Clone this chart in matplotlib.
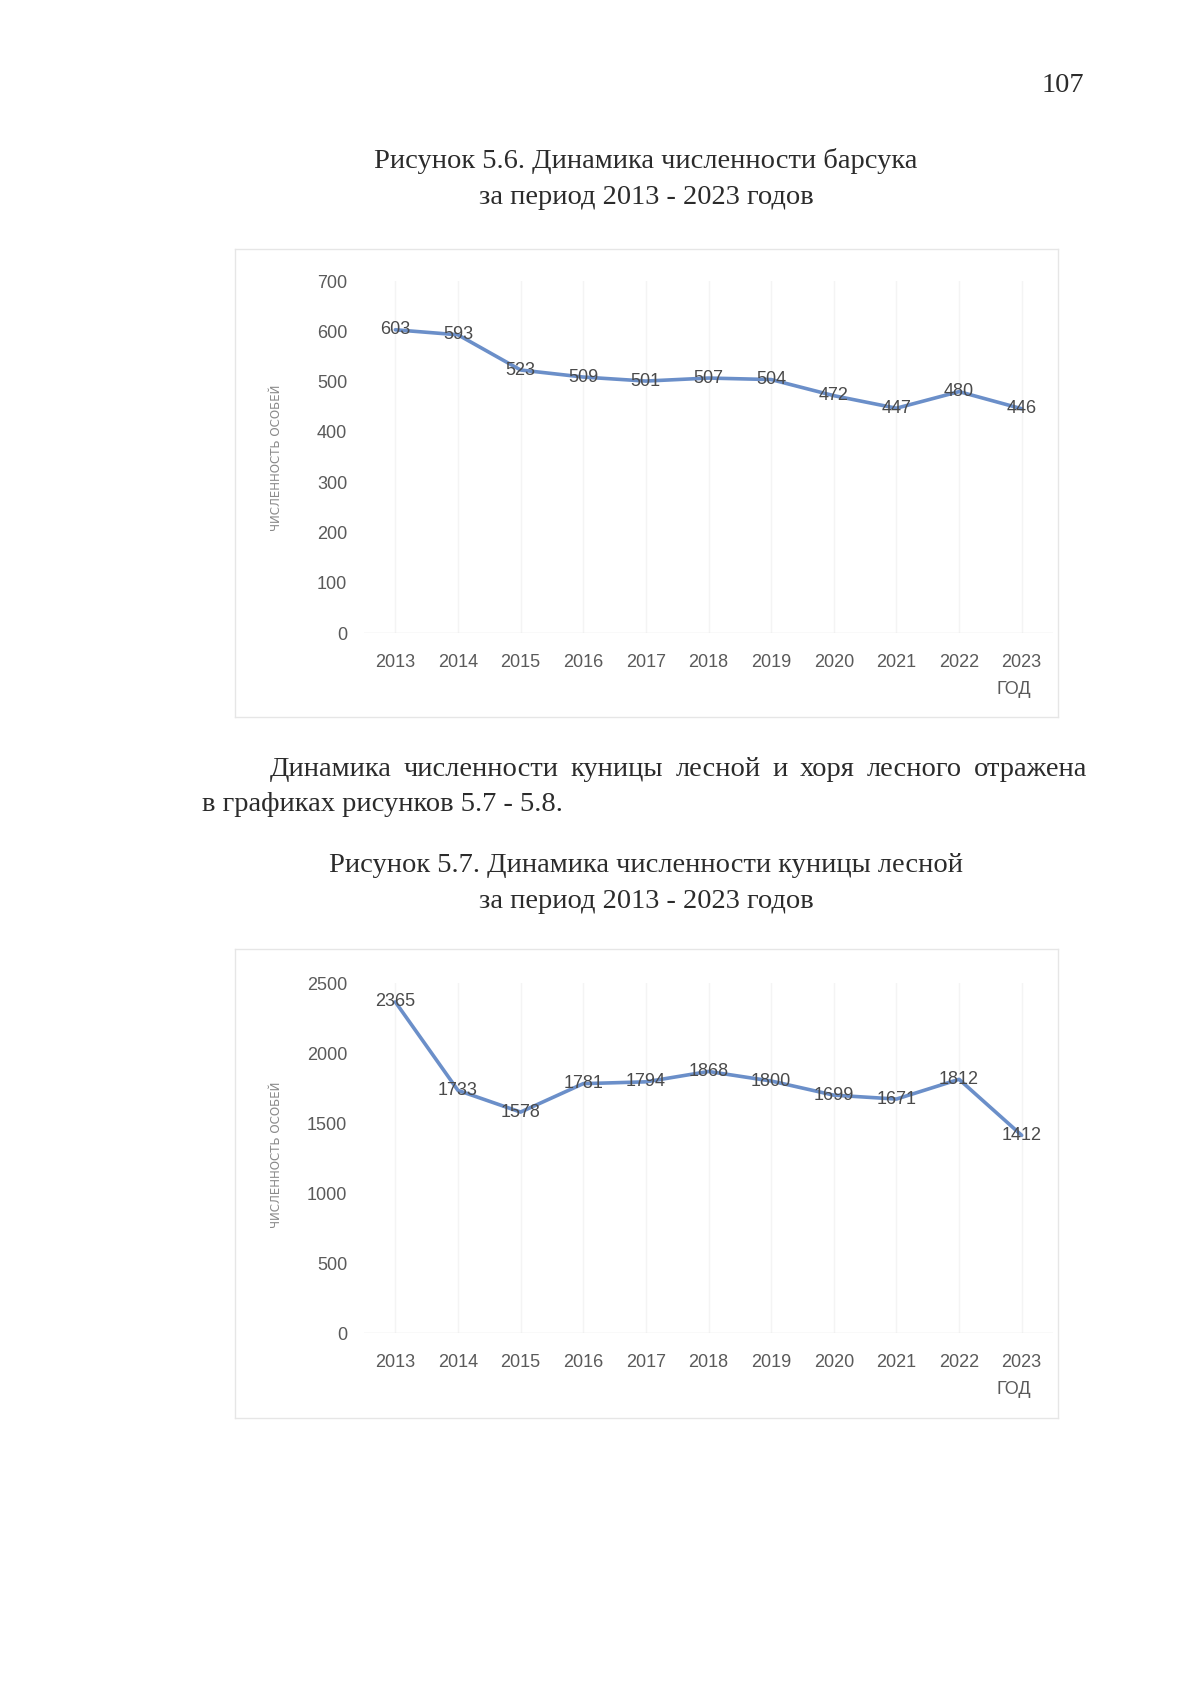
import matplotlib
matplotlib.use("Agg")
import matplotlib.pyplot as plt
from matplotlib import font_manager

years = ["2013", "2014", "2015", "2016", "2017", "2018", "2019", "2020", "2021", "2022", "2023"]
badger = [603, 593, 523, 509, 501, 507, 504, 472, 447, 480, 446]
marten = [2365, 1733, 1578, 1781, 1794, 1868, 1800, 1699, 1671, 1812, 1412]

badger_ticks = [0, 100, 200, 300, 400, 500, 600, 700]
marten_ticks = [0, 500, 1000, 1500, 2000, 2500]

page_no = "107"
caption1 = ["Рисунок 5.6. Динамика численности барсука", "за период 2013 - 2023 годов"]
caption2 = ["Рисунок 5.7. Динамика численности куницы лесной", "за период 2013 - 2023 годов"]
para_line1 = "Динамика численности куницы лесной и хоря лесного отражена"
para_line2 = "в графиках рисунков 5.7 - 5.8."
y_title = "ЧИСЛЕННОСТЬ ОСОБЕЙ"
x_title = "ГОД"

W, H = 1200, 1698
names = {f.name for f in font_manager.fontManager.ttflist}
narrow = "Liberation Sans Narrow" if "Liberation Sans Narrow" in names else "Liberation Sans"
serif = "Liberation Serif"

LINE = "#6b8fc9"
TICK = "#5a5a5a"

fig = plt.figure(figsize=(W / 100, H / 100), dpi=100)
fig.patch.set_facecolor("white")


def px(x, y):
    return x / W, 1 - y / H


def box(x0, y0, x1, y1):
    # axes rectangle from pixel coords
    return [x0 / W, 1 - y1 / H, (x1 - x0) / W, (y1 - y0) / H]


def draw_chart(frame, plot, values, ticks, ymax):
    fx0, fy0, fx1, fy1 = frame
    fr = fig.add_axes(box(fx0, fy0, fx1, fy1))
    fr.set_xticks([])
    fr.set_yticks([])
    for s in fr.spines.values():
        s.set_color("#e6e6e6")
        s.set_linewidth(1.0)
    fr.patch.set_alpha(0)

    ax = fig.add_axes(box(*plot))
    x = list(range(len(values)))
    ax.plot(x, values, color=LINE, lw=2.6, solid_capstyle="round", zorder=3)
    for xi, v in zip(x, values):
        ax.text(xi, v, str(v), ha="center", va="center", fontsize=13,
                family=narrow, color="#4a4a4a", zorder=4)
    ax.set_xlim(-0.5, len(values) - 0.5)
    ax.set_ylim(0, ymax)
    ax.set_yticks(ticks)
    ax.set_yticklabels([str(t) for t in ticks], family=narrow, fontsize=13, color=TICK)
    ax.set_xticks(x)
    ax.set_xticklabels(years, family=narrow, fontsize=13, color=TICK)
    ax.tick_params(length=0, pad=12, axis="y")
    ax.tick_params(length=0, pad=15, axis="x")
    for s in ax.spines.values():
        s.set_visible(False)
    ax.axhline(0, color="#e3e3e3", lw=1.0, zorder=1)
    for xi in x:
        ax.axvline(xi, color="#f4f4f4", lw=1.0, zorder=0)
    ax.patch.set_alpha(0)
    return ax


# chart 1
draw_chart((235, 249, 1058, 717), (364, 281, 1053, 633), badger, badger_ticks, 700)
fig.text(*px(276, 458), y_title, rotation=90, ha="center", va="center",
         fontsize=8.5, color="#8a8a8a", family="DejaVu Sans")
fig.text(*px(1014, 689), x_title, ha="center", va="center", fontsize=13,
         family=narrow, color=TICK)

# chart 2
draw_chart((235, 949, 1058, 1418), (364, 983, 1053, 1333), marten, marten_ticks, 2500)
fig.text(*px(276, 1155), y_title, rotation=90, ha="center", va="center",
         fontsize=8.5, color="#8a8a8a", family="DejaVu Sans")
fig.text(*px(1014, 1389), x_title, ha="center", va="center", fontsize=13,
         family=narrow, color=TICK)

# page text
TXT = "#2b2b2b"
FS = 20.5
fig.text(*px(1063, 86), page_no, ha="center", va="center", fontsize=FS,
         family=serif, color=TXT)
fig.text(*px(646, 161), caption1[0], ha="center", va="center", fontsize=FS,
         family=serif, color=TXT)
fig.text(*px(646, 197), caption1[1], ha="center", va="center", fontsize=FS,
         family=serif, color=TXT)
fig.text(*px(646, 866), caption2[0], ha="center", va="center", fontsize=FS,
         family=serif, color=TXT)
fig.text(*px(646, 901), caption2[1], ha="center", va="center", fontsize=FS,
         family=serif, color=TXT)

# justified first line of the paragraph
renderer = fig.canvas.get_renderer()
words = para_line1.split()
x_left, x_right, y_line = 270, 1087, 769
arts = []
total = 0
for w in words:
    t = fig.text(0, 0, w, fontsize=FS, family=serif, color=TXT, va="center")
    bb = t.get_window_extent(renderer)
    arts.append((t, bb.width))
    total += bb.width
gap = (x_right - x_left - total) / (len(words) - 1)
cur = x_left
for t, wdt in arts:
    t.set_position(px(cur, y_line))
    cur += wdt + gap
fig.text(*px(202, 804), para_line2, ha="left", va="center", fontsize=FS,
         family=serif, color=TXT)

fig.savefig("out.png", dpi=100, facecolor="white")
